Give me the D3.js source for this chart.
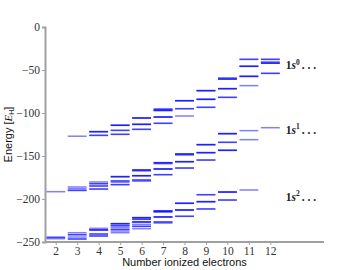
<!DOCTYPE html>
<html>
<head>
<meta charset="utf-8">
<script src="https://cdn.jsdelivr.net/npm/d3@7"></script>
<style>
  body { margin: 0; background: #fff; }
  #chart { width: 360px; height: 270px; }
</style>
</head>
<body>
<div id="chart"></div>
<script>
// Number of ionized electrons (x categories)
const electrons = [2, 3, 4, 5, 6, 7, 8, 9, 10, 11, 12];

// Energy levels [E_H] per number of ionized electrons.
// Repeated values are degenerate levels (drawn on top of each other -> darker).
const shell0 = [
  [],
  [-127],
  [-121.7, -121.7, -121.7, -126, -126],
  [-114.3, -114.3, -114.3, -120.2, -120.2, -124.8, -124.8],
  [-105.8, -105.8, -105.8, -113.2, -113.2, -113.2, -119, -119],
  [-95.5, -95.5, -97, -97, -97, -104.7, -104.7, -104.7, -112, -112],
  [-85.7, -85.7, -85.7, -95, -95, -103.5],
  [-74, -74, -74, -84.1, -84.1, -84.1, -93.4, -93.4],
  [-59, -60.5, -60.5, -60.5, -71.7, -71.7, -71.7, -81.8, -81.8],
  [-37.6, -37.6, -45.7, -45.7, -45.7, -57.4, -57.4, -57.4, -68.2],
  [-37.6, -37.6, -40.5, -42, -42, -42, -53.9, -53.9]
];
const shell1 = [
  [-191.5],
  [-186, -188, -190, -190],
  [-180.2, -182.2, -182.2, -184.9, -184.9, -188.4, -188.4],
  [-174, -174, -174, -179, -179, -180.6, -183.3, -183.3],
  [-166.3, -166.3, -166.3, -167.5, -172.9, -172.9, -172.9, -177.9, -177.9, -179.4],
  [-157.8, -157.8, -157.8, -159, -165.1, -165.1, -165.1, -171.7, -171.7],
  [-147.7, -147.7, -147.7, -149, -156.6, -156.6, -156.6, -164, -164],
  [-136.8, -136.8, -136.8, -146.1, -146.1, -146.1, -154.7, -154.7],
  [-124, -124, -124, -134.1, -134.1, -143.4, -143.4, -143.4],
  [-120.5, -131],
  [-117.1]
];
const shell2 = [
  [-244.6, -244.6, -246.2],
  [-239.2, -241.5, -241.5, -244.2, -246.5, -246.5],
  [-234.1, -236, -236, -236, -240.7, -240.7, -243, -243],
  [-228.7, -228.7, -228.7, -231, -231, -233, -235.3, -235.3, -237.2, -239.2],
  [-221.7, -221.7, -221.7, -223.6, -223.6, -226.7, -226.7, -226.7, -229.5, -231.8, -231.8, -234.5],
  [-213.9, -213.9, -213.9, -215, -215, -220.9, -220.9, -220.9, -226.7, -226.7, -228],
  [-205, -205, -205, -212.8, -212.8, -212.8, -220.1, -220.1],
  [-195, -195, -203.1, -203.1, -203.1, -211.6, -211.6],
  [-191.9, -191.9, -191.9, -201.2, -201.2],
  [-189.5],
  []
];
const shellLabels = ['0', '1', '2'];
const labelEnergy = [-45, -120, -198];
const yTicks = [0, -50, -100, -150, -200, -250];

const W = 360, H = 270;
const margin = { top: 27, right: 36, bottom: 28, left: 45 };

const svg = d3.select('#chart').append('svg')
  .attr('width', W).attr('height', H);

const x = d3.scaleLinear().domain([1.5, 14.5]).range([margin.left, W - margin.right]);
const y = d3.scaleLinear().domain([-250, 0]).range([H - margin.bottom, margin.top]);

const axisColor = '#a0a0a0';
const serif = '"Liberation Serif", "DejaVu Serif", serif';
const sans = '"Liberation Sans", Arial, sans-serif';

// Levels
const halfW = 0.44;
const levels = [];
[shell0, shell1, shell2].forEach(shell => {
  shell.forEach((energies, i) => {
    energies.forEach(e => levels.push({ n: electrons[i], e }));
  });
});

svg.append('g').selectAll('line').data(levels).join('line')
  .attr('x1', d => x(d.n - halfW)).attr('x2', d => x(d.n + halfW))
  .attr('y1', d => y(d.e)).attr('y2', d => y(d.e))
  .attr('stroke', '#0000ff').attr('stroke-opacity', 0.5)
  .attr('stroke-width', 1.5);

// Y axis
svg.append('g').attr('transform', `translate(${margin.left},0)`)
  .call(d3.axisLeft(y).tickValues(yTicks).tickSize(3).tickPadding(2)
    .tickFormat(d => d === 0 ? '0' : '\u2212' + Math.abs(d)))
  .call(ax => ax.select('.domain').attr('stroke', axisColor).attr('stroke-width', 2))
  .call(ax => ax.selectAll('.tick line').attr('stroke', axisColor))
  .call(ax => ax.selectAll('text').attr('fill', '#333').attr('font-size', 11.5).attr('font-family', serif));

// X axis
svg.append('g').attr('transform', `translate(0,${y(-250)})`)
  .call(d3.axisBottom(x).tickValues(electrons).tickSize(3).tickPadding(2).tickFormat(d3.format('d')))
  .call(ax => ax.select('.domain').attr('stroke', axisColor).attr('stroke-width', 2)
    .attr('d', `M${x(1.5)},0H${x(14.5)}`))
  .call(ax => ax.selectAll('.tick line').attr('stroke', axisColor))
  .call(ax => ax.selectAll('text').attr('fill', '#333').attr('font-size', 11.5).attr('font-family', serif));

// Axis titles
svg.append('text')
  .attr('x', (x(1.5) + x(14.5)) / 2).attr('y', H - 4)
  .attr('text-anchor', 'middle').attr('font-size', 11).attr('font-family', sans)
  .attr('fill', '#111').text('Number ionized electrons');

const yt = svg.append('text')
  .attr('transform', `translate(12,${(y(0) + y(-250)) / 2}) rotate(-90)`)
  .attr('text-anchor', 'middle').attr('font-size', 11).attr('font-family', sans)
  .attr('fill', '#111');
yt.append('tspan').text('Energy [');
yt.append('tspan').attr('font-family', serif).attr('font-style', 'italic').text('E');
yt.append('tspan').attr('font-size', 7).attr('dy', 2).text('H');
yt.append('tspan').attr('dy', -2).text(']');

// Shell labels
shellLabels.forEach((s, i) => {
  const t = svg.append('text')
    .attr('x', x(12.72)).attr('y', y(labelEnergy[i]) + 3.5)
    .attr('font-size', 11.5).attr('font-family', serif).attr('font-weight', 'bold')
    .attr('fill', '#222');
  t.append('tspan').text('1');
  t.append('tspan').attr('font-style', 'italic').text('s');
  t.append('tspan').attr('font-size', 7.5).attr('dy', -4.5).text(s);
  t.append('tspan').attr('dy', 4.5).attr('dx', 2).text('. . .');
});
</script>
</body>
</html>
